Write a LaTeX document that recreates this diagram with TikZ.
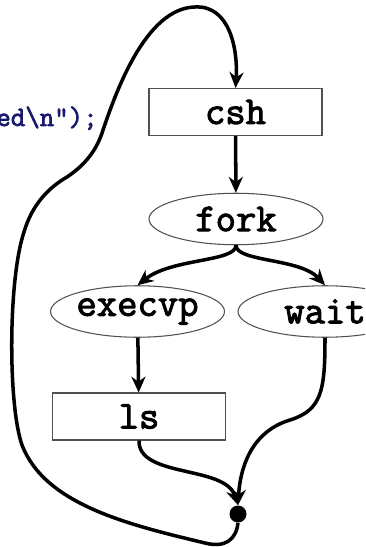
\documentclass[tikz,border=0pt]{standalone}
\usepackage{fontspec}
\usepackage{tikz}
\usetikzlibrary{arrows.meta,shapes.geometric}
\newfontfamily\codefont{Latin Modern Mono}[AutoFakeBold=2.5]
\definecolor{codeblue}{RGB}{25,25,110}
\definecolor{boxgray}{RGB}{80,80,80}

\begin{document}
\begin{tikzpicture}[x=0.02cm,y=-0.02cm,
    proc/.style={draw=boxgray,line width=0.6pt,rectangle,minimum width=3.46cm,minimum height=0.94cm,font=\codefont\bfseries\fontsize{22.5}{24}\selectfont},
    call/.style={draw=boxgray,line width=0.6pt,ellipse,minimum width=3.48cm,minimum height=1.03cm,inner sep=0pt,font=\codefont\bfseries\fontsize{22.5}{24}\selectfont},
    flow/.style={-{Stealth[length=9pt,width=8pt]},line width=2pt}]
    \useasboundingbox (0,0) rectangle (365,547);
    \clip (0,0) rectangle (365,547);

    \node[anchor=base west,inner sep=0pt,text=codeblue,font=\codefont\bfseries\fontsize{16}{18}\selectfont] at (-4,126) (code) {ed\textbackslash n”);};

    \node[proc] at (235.5,112) (csh) {csh};
    \node[call] at (236,219) (fork) {fork};
    \node[call] at (137.5,311.5) (execvp) {execvp};
    \node[call] at (325,311.5) (wait) {wait};
    \node[proc] at (139,416.5) (ls) {ls};
    \node[circle,fill=black,inner sep=0pt,minimum size=0.34cm] at (238,514) (join) {};

    \draw[flow] (csh) -- (fork);
    \draw[flow] (fork.south) .. controls (236,262) and (172,258) .. (execvp.north);
    \draw[flow] (fork.south) .. controls (236,262) and (300,258) .. (wait.north);
    \draw[flow] (execvp) -- (ls);
    \draw[flow] (ls.south) .. controls (138,478) and (225,465) .. (join.north);
    \draw[flow] (wait.south) .. controls (325,390) and (322,410) .. (290,420)
        .. controls (250,432) and (240,470) .. (join.north);

    % back to the shell
    \draw[flow] (join.south) .. controls (236,540) and (225,548) .. (205,543)
        .. controls (130,525) and (45,505) .. (22,445)
        .. controls (8,405) and (8,280) .. (24,232)
        .. controls (32,205) and (48,188) .. (67,177)
        .. controls (85,165) and (97,150) .. (103,130)
        .. controls (115,95) and (145,8) .. (195,7)
        .. controls (230,5) and (238,50) .. (csh.north);
\end{tikzpicture}
\end{document}
